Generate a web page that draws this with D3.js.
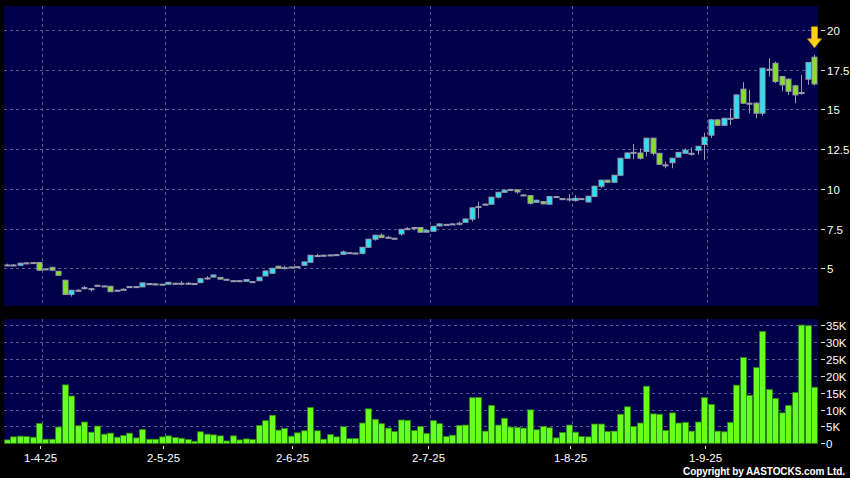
<!DOCTYPE html>
<html><head><meta charset="utf-8">
<script src="https://cdn.jsdelivr.net/npm/d3@7/dist/d3.min.js"></script>
<style>html,body{margin:0;padding:0;background:#000;}svg{display:block;}</style>
</head><body>
<svg id="c" width="850" height="478"></svg>
<script>
const opens  = [5.22,5.22,5.20,5.35,5.37,5.37,4.97,5.07,4.82,4.26,3.37,3.63,3.79,3.73,3.94,3.90,3.88,3.63,3.69,3.86,3.86,3.84,4.05,4.03,4.01,4.01,4.07,4.07,4.07,4.05,4.11,4.40,4.46,4.44,4.32,4.23,4.23,4.19,4.17,4.23,4.53,4.70,5.14,5.05,5.09,5.11,5.20,5.39,5.81,5.83,5.85,5.87,5.89,5.99,5.97,5.95,6.33,6.84,7.09,6.96,6.90,7.17,7.50,7.57,7.57,7.28,7.34,7.67,7.77,7.80,7.84,7.90,8.10,8.89,9.04,9.04,9.48,9.79,9.96,9.94,9.62,9.58,9.16,9.20,9.04,9.52,9.39,9.37,9.27,9.39,9.18,9.52,10.17,10.55,10.42,10.86,11.93,12.30,12.26,12.35,13.19,12.24,11.51,11.65,12.00,12.24,12.24,12.43,12.79,13.38,14.34,14.00,14.44,14.44,16.27,15.39,15.39,14.76,17.53,17.90,17.07,16.90,16.48,16.06,16.90,18.28];
const highs  = [5.30,5.27,5.36,5.40,5.40,5.40,5.00,5.10,4.84,4.28,3.65,3.70,3.90,3.76,3.99,3.93,3.90,3.66,3.76,3.90,3.89,4.12,4.08,4.05,4.04,4.15,4.10,4.20,4.15,4.08,4.38,4.52,4.62,4.46,4.35,4.26,4.26,4.32,4.20,4.47,4.86,5.03,5.16,5.17,5.12,5.14,5.43,5.85,5.91,5.86,5.88,5.90,6.12,6.02,6.00,6.35,6.86,7.11,7.20,7.05,6.93,7.48,7.60,7.60,7.60,7.43,7.67,7.82,7.81,7.83,7.95,8.13,8.83,9.20,9.10,9.50,9.81,9.95,10.02,9.97,9.66,9.60,9.31,9.23,9.55,9.56,9.43,9.68,9.60,9.42,9.56,10.20,10.57,10.58,10.88,11.95,12.28,12.83,12.55,13.21,13.21,12.26,11.72,11.95,12.32,12.55,12.60,12.70,13.54,14.40,14.40,14.46,15.07,15.93,16.71,16.23,15.45,17.62,18.22,18.00,17.10,16.95,16.55,17.17,17.98,18.43];
const lows   = [5.15,5.18,5.18,5.30,5.33,4.87,4.94,4.86,4.55,3.35,3.23,3.52,3.68,3.55,3.90,3.87,3.52,3.58,3.64,3.82,3.83,3.82,3.96,3.94,3.98,3.99,4.04,3.95,3.99,4.02,4.08,4.30,4.44,4.30,4.29,4.20,4.20,4.17,4.14,4.20,4.51,4.68,4.99,4.95,5.06,5.08,5.17,5.37,5.72,5.80,5.82,5.84,5.87,5.96,5.94,5.88,6.31,6.75,6.92,6.90,6.82,7.05,7.44,7.40,7.26,7.26,7.32,7.65,7.72,7.77,7.70,7.88,7.95,8.16,8.98,9.00,9.40,9.77,9.90,9.70,9.58,9.02,9.14,9.04,9.02,9.48,9.35,9.20,9.20,9.30,9.16,9.50,10.05,10.40,10.40,10.84,11.91,11.87,11.85,12.05,12.10,11.53,11.30,11.30,11.98,12.22,12.10,12.15,11.82,13.20,13.95,13.98,14.02,14.40,15.35,14.76,14.44,14.60,17.07,16.65,16.14,15.90,15.39,15.91,16.54,16.50];
const closes = [5.22,5.22,5.33,5.35,5.37,4.89,4.97,4.89,4.57,3.37,3.63,3.63,3.79,3.73,3.94,3.90,3.54,3.63,3.69,3.86,3.86,4.09,3.98,3.96,4.01,4.13,4.07,4.07,4.07,4.05,4.36,4.40,4.59,4.33,4.32,4.23,4.23,4.30,4.17,4.45,4.84,5.01,5.01,5.05,5.09,5.11,5.41,5.83,5.81,5.83,5.85,5.87,6.04,5.99,5.97,6.33,6.84,7.09,6.94,6.96,6.90,7.46,7.50,7.57,7.28,7.40,7.65,7.80,7.77,7.80,7.84,8.11,8.81,8.89,9.04,9.48,9.79,9.92,9.96,9.81,9.62,9.10,9.29,9.06,9.52,9.52,9.39,9.37,9.41,9.33,9.54,10.17,10.55,10.42,10.86,11.93,12.26,12.30,11.93,13.19,12.24,11.55,11.51,11.93,12.30,12.43,12.24,12.68,13.25,14.34,14.00,14.44,14.44,15.91,15.39,15.39,14.76,17.59,17.53,16.75,16.54,16.14,15.91,16.06,17.95,16.60];
// volume in thousands of shares
const volumes = [1.0,1.9,2.1,2.0,1.8,5.9,1.2,1.2,4.8,17.3,14.0,5.2,6.3,3.3,5.1,2.7,3.0,1.8,2.3,3.0,1.6,4.1,1.2,1.2,1.9,2.2,1.7,1.5,1.1,0.6,3.4,2.7,2.5,2.2,0.7,2.2,1.0,1.3,1.1,5.3,6.7,8.3,3.9,4.4,2.1,3.1,3.7,10.6,3.7,1.2,2.6,1.9,4.9,1.4,1.4,6.0,10.2,7.1,5.8,4.5,3.5,6.9,6.8,3.8,5.0,2.9,
  6.7,5.8,2.0,2.4,5.3,5.4,13.5,13.6,3.6,11.2,5.4,7.4,4.8,4.7,4.5,9.9,4.0,5.0,4.6,1.6,3.2,5.4,3.3,2.0,1.9,5.7,5.7,3.5,3.6,8.6,10.8,5.0,6.0,16.9,8.7,8.6,3.8,9.0,6.0,6.2,3.6,6.3,13.5,11.5,3.6,3.4,6.2,17.2,25.4,14.2,22.4,33.1,15.9,13.3,9.0,11.2,15.0,35.0,34.8,16.6];
const priceTicks = [5, 7.5, 10, 12.5, 15, 17.5, 20];
const volTicks = [0, 5, 10, 15, 20, 25, 30, 35];
const volTickLabels = ["0","5K","10K","15K","20K","25K","30K","35K"];
const monthLabels = ["1-4-25","2-5-25","2-6-25","2-7-25","1-8-25","1-9-25"];
const monthStartIdx = [6, 25, 45, 66, 88, 109];

const svg = d3.select("#c");
const W = 850, H = 478;
const L = 4, R = 818;
const main = {top: 6, bottom: 306};
const vol = {top: 319, bottom: 444};
const n = closes.length;
const idx = d3.range(n);

const x = d3.scaleBand().domain(idx).range([3.5, 817.2]).padding(0);
const cx = i => x(i) + x.bandwidth() / 2;
const y = d3.scaleLinear().domain([2.64, 21.5]).range([main.bottom, main.top]);
const yv = d3.scaleLinear().domain([0, 36.8]).range([443.3, vol.top]);

svg.append("rect").attr("width", W).attr("height", H).attr("fill", "#000");
const navy = "#00004a";
svg.append("rect").attr("x", L).attr("y", main.top).attr("width", R - L).attr("height", main.bottom - main.top).attr("fill", navy);
svg.append("rect").attr("x", L).attr("y", vol.top).attr("width", R - L).attr("height", vol.bottom - vol.top).attr("fill", navy);

const gridCol = "#5c5c8c";
const dash = "3,3";
svg.append("g").selectAll("line").data(priceTicks).join("line")
  .attr("x1", L).attr("x2", R).attr("y1", d => Math.round(y(d)) + 0.5).attr("y2", d => Math.round(y(d)) + 0.5)
  .attr("stroke", gridCol).attr("stroke-dasharray", dash).attr("stroke-width", 1);
svg.append("g").selectAll("line").data(volTicks.filter(d => d > 0)).join("line")
  .attr("x1", L).attr("x2", R).attr("y1", d => Math.round(yv(d)) + 0.5).attr("y2", d => Math.round(yv(d)) + 0.5)
  .attr("stroke", gridCol).attr("stroke-dasharray", dash).attr("stroke-width", 1);
const vg = svg.append("g");
monthStartIdx.forEach(i => {
  const xx = Math.round(x(i)) + 0.5;
  vg.append("line").attr("x1", xx).attr("x2", xx).attr("y1", main.top).attr("y2", main.bottom)
    .attr("stroke", gridCol).attr("stroke-dasharray", dash);
  vg.append("line").attr("x1", xx).attr("x2", xx).attr("y1", vol.top).attr("y2", vol.bottom)
    .attr("stroke", gridCol).attr("stroke-dasharray", dash);
});

// candles
const upCol = "#22e6f6", downCol = "#84e02a", edge = "#9a9aaa";
const bw = 5;
const cg = svg.append("g");
idx.forEach(i => {
  const o = opens[i], h = highs[i], l = lows[i], c = closes[i];
  const xc = Math.round(cx(i)) + 0.5;
  cg.append("line").attr("x1", xc).attr("x2", xc).attr("y1", y(h)).attr("y2", y(l))
    .attr("stroke", edge).attr("stroke-width", 1);
  const top = y(Math.max(o, c)), bot = y(Math.min(o, c));
  const hgt = Math.max(1, bot - top);
  cg.append("rect").attr("x", xc - bw / 2).attr("y", top).attr("width", bw).attr("height", hgt)
    .attr("fill", c > o ? upCol : (c < o ? downCol : edge))
    .attr("stroke", edge).attr("stroke-width", 1);
});

// volume bars
svg.append("g").selectAll("rect").data(idx).join("rect")
  .attr("x", i => Math.round(cx(i)) + 0.5 - 2.9)
  .attr("y", i => yv(volumes[i]))
  .attr("width", 5.8)
  .attr("height", i => yv(0) - yv(volumes[i]))
  .attr("fill", "#66ff1e").attr("stroke", "#2f8a10").attr("stroke-width", 0.8);

// right axes
const txt = "#ffffff";
const font = "'Liberation Sans', Arial, sans-serif";
const pa = svg.append("g");
priceTicks.forEach(p => {
  const yy = Math.round(y(p)) + 0.5;
  pa.append("line").attr("x1", 821).attr("x2", 825).attr("y1", yy).attr("y2", yy).attr("stroke", "#ddd");
  pa.append("text").attr("x", 827).attr("y", yy + 4).attr("fill", txt).attr("font-family", font)
    .attr("font-size", 11.5).text(d3.format("")(p));
});
const va = svg.append("g");
volTicks.forEach((v, k) => {
  const yy = Math.round(yv(v)) + 0.5;
  va.append("line").attr("x1", 821).attr("x2", 825).attr("y1", yy).attr("y2", yy).attr("stroke", "#ddd");
  va.append("text").attr("x", 826).attr("y", yy + 4).attr("fill", txt).attr("font-family", font)
    .attr("font-size", 11.5).text(volTickLabels[k]);
});
// date axis
const da = svg.append("g");
monthStartIdx.forEach((i, k) => {
  const xx = Math.round(x(i)) - 1.5;
  da.append("line").attr("x1", xx).attr("x2", xx).attr("y1", 446).attr("y2", 449).attr("stroke", "#ddd");
  da.append("text").attr("x", xx).attr("y", 462).attr("text-anchor", "middle").attr("fill", txt)
    .attr("font-family", font).attr("font-size", 11.5).text(monthLabels[k]);
});

// copyright
svg.append("text").attr("x", 845).attr("y", 475).attr("text-anchor", "end").attr("fill", "#fff")
  .attr("font-family", font).attr("font-size", 10).attr("font-weight", "bold")
  .attr("textLength", 162).attr("lengthAdjust", "spacing").text("Copyright by AASTOCKS.com Ltd.");

// yellow arrow above last candle
const li = n - 1;
const ax = Math.round(cx(li)) + 0.5, tip = y(highs[li]) - 7;
const arrow = [[ax - 3, tip - 21], [ax + 3, tip - 21], [ax + 3, tip - 9], [ax + 7, tip - 9], [ax, tip], [ax - 7, tip - 9], [ax - 3, tip - 9]];
svg.append("path").attr("d", d3.line()(arrow) + "Z").attr("fill", "#ffd21a").attr("stroke", "#c89400").attr("stroke-width", 0.8);
</script>
</body></html>
